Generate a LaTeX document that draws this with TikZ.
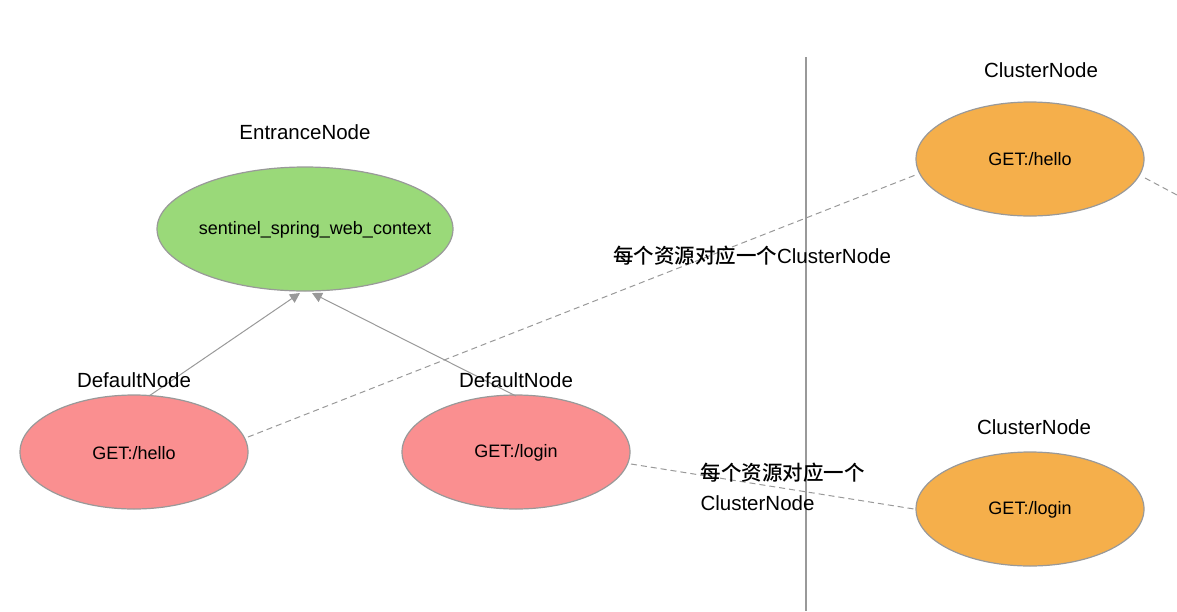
\documentclass[tikz,border=0pt]{standalone}
\usepackage{fontspec}
\setmainfont{Liberation Sans}
\newfontfamily\cjk{Noto Sans CJK SC Medium}
\usetikzlibrary{arrows.meta}
\definecolor{edgegray}{HTML}{999999}
\definecolor{greenfill}{HTML}{9AD979}
\definecolor{pinkfill}{HTML}{FA8F90}
\definecolor{orangefill}{HTML}{F5AF4B}
\tikzset{
  ellipsebox/.style={draw=edgegray, line width=1.2pt},
  title/.style={font=\fontsize{20.5}{24}\selectfont, text=black},
  inner/.style={font=\fontsize{18}{21}\selectfont, text=black},
  arr/.style={draw=edgegray, line width=1pt, -{Triangle[length=10pt,width=10pt]}},
  dash line/.style={draw=edgegray, line width=1pt, dash pattern=on 6pt off 4pt},
  sep/.style={draw=edgegray, line width=1.2pt},
}
\begin{document}
\begin{tikzpicture}[x=1pt,y=-1pt]
\useasboundingbox (0,0) rectangle (1177,611);
% separator
\draw[sep] (806,57) -- (806,611);
% ellipses
\filldraw[fill=greenfill, ellipsebox] (305,229) ellipse [x radius=148, y radius=62];
\filldraw[fill=pinkfill, ellipsebox] (134,452) ellipse [x radius=114, y radius=57];
\filldraw[fill=pinkfill, ellipsebox] (516,452) ellipse [x radius=114, y radius=57];
\filldraw[fill=orangefill, ellipsebox] (1030,159) ellipse [x radius=114, y radius=57];
\filldraw[fill=orangefill, ellipsebox] (1030,509) ellipse [x radius=114, y radius=57];
% named anchors
\coordinate (gA) at (300,293);
\coordinate (gB) at (312,293);
\coordinate (hTop) at (149,396);
\coordinate (lTop) at (516,396);
\coordinate (hR) at (248,437);
\coordinate (ohL) at (918,174);
\coordinate (ohR) at (1145,178);
\coordinate (ohOut) at (1177,195);
\coordinate (lR) at (631,464);
\coordinate (olL) at (914,509);
% connectors
\draw[arr] (hTop) -- (gA);
\draw[arr] (lTop) -- (gB);
\draw[dash line] (hR) -- (ohL);
\draw[dash line] (ohR) -- (ohOut);
\draw[dash line] (lR) -- (olL);
% texts
\node[inner] (g) at (315,230) {sentinel\_spring\_web\_context};
\node[inner] (h) at (134,453) {GET:/hello};
\node[inner] (l) at (516,453) {GET:/login};
\node[inner] (oh) at (1030,159) {GET:/hello};
\node[inner] (ol) at (1030,510) {GET:/login};
\node[title] (t1) at (305,132) {EntranceNode};
\node[title] (t2) at (134,380) {DefaultNode};
\node[title] (t3) at (516,380) {DefaultNode};
\node[title] (t4) at (1041,70) {ClusterNode};
\node[title] (t5) at (1034,427) {ClusterNode};
\node[title] (c1) at (752,256) {{\cjk 每个资源对应一个}ClusterNode};
\node[title, anchor=west] (c2) at (697,473) {\cjk 每个资源对应一个};
\node[title, anchor=west] (c3) at (697,503) {ClusterNode};
\end{tikzpicture}
\end{document}
